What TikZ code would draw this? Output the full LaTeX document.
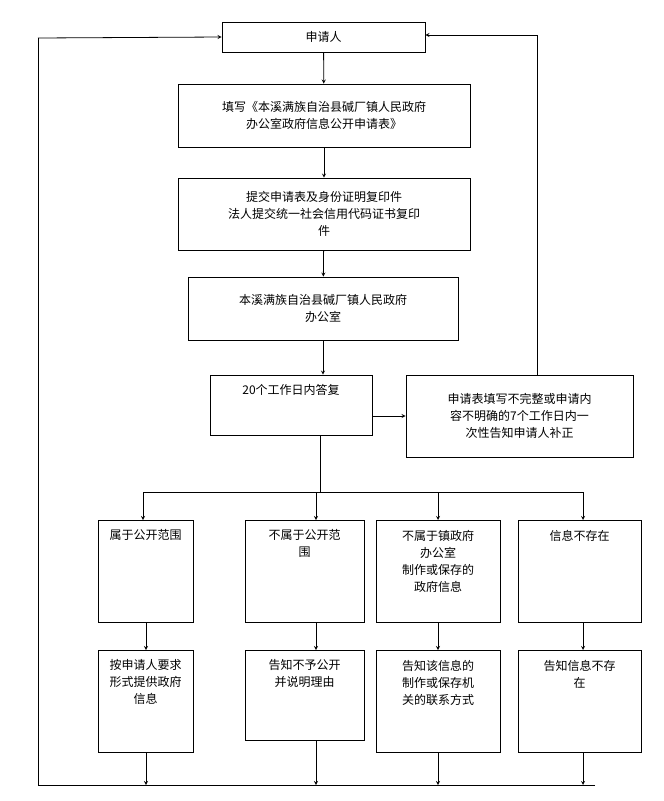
\documentclass[tikz,border=0pt]{standalone}
\usepackage{fontspec}
\setmainfont{Noto Sans CJK SC}
\begin{document}
\begin{tikzpicture}[x=1pt,y=-1pt,
  box/.style={draw,line width=0.8pt,inner sep=0pt},
  txt/.style={font=\fontsize{12}{17}\selectfont,align=center,inner sep=0pt},
  arr/.style={-stealth,line width=0.8pt},
  ln/.style={line width=0.8pt}]
\useasboundingbox (0,0) rectangle (664,801);
\node[box,txt,minimum width=203pt,minimum height=30pt] (A) at (323.5,37) {申请人};
\node[box,txt,minimum width=292pt,minimum height=63pt] (B) at (324,115.5) {填写《本溪满族自治县碱厂镇人民政府\\办公室政府信息公开申请表》};
\node[box,txt,minimum width=292pt,minimum height=72pt] (C) at (324,214) {提交申请表及身份证明复印件\\法人提交统一社会信用代码证书复印\\件};
\node[box,txt,minimum width=270pt,minimum height=63pt] (D) at (323,308.5) {本溪满族自治县碱厂镇人民政府\\办公室};
\node[box,minimum width=162pt,minimum height=60pt] (E) at (291,405) {};
\node[txt,anchor=north] (Et) at ([yshift=-10pt]E.north) {20个工作日内答复};
\node[box,txt,minimum width=227pt,minimum height=82pt] (F) at (519.5,416) {申请表填写不完整或申请内\\容不明确的7个工作日内一\\次性告知申请人补正};
\foreach \n/\x/\w/\t in {R1/145.5/95/属于公开范围, R2/304.5/119/不属于公开范\\围, R3/438/124/不属于镇政府\\办公室\\制作或保存的\\政府信息, R4/579.5/123/信息不存在}{
  \node[box,minimum width=\w pt,minimum height=102pt] (\n) at (\x,571) {};
  \node[txt,anchor=north] (\n t) at ([yshift=-10pt]\n.north) {\t};}
\foreach \n/\x/\y/\w/\h/\t in {S1/145.5/701/95/102/按申请人要求\\形式提供政府\\信息, S2/304.5/695/119/90/告知不予公开\\并说明理由, S3/438/701/124/102/告知该信息的\\制作或保存机\\关的联系方式, S4/579.5/701/123/102/告知信息不存\\在}{
  \node[box,minimum width=\w pt,minimum height=\h pt] (\n) at (\x,\y) {};
  \node[txt,anchor=north] (\n t) at ([yshift=-10pt]\n.north) {\t};}
\draw[arr] (A) -- (B);
\draw[arr] (B) -- (C);
\draw[arr] (C) -- (D);
\draw[arr] (D.south) -- (D.south |- E.north);
\draw[arr] (E.east |- F.west) -- (F.west);
\coordinate (J) at (320,492);
\draw[ln] (320,435) -- (J);
\draw[ln] (143,492) -- (583,492);
\foreach \x/\r in {143/R1,316/R2,438/R3,583/R4} \draw[arr] (\x,492) -- (\x,520);
\foreach \x/\r/\s in {146/R1/S1,316/R2/S2,438/R3/S3,583/R4/S4} \draw[arr] (\x,622) -- (\x,650);
\foreach \x/\y in {146/752,316/740,438/752,583/752} \draw[arr] (\x,\y) -- (\x,785);
\draw[ln] (595,785) -- (38,785) -- (38,38);
\draw[arr] (38,38) -- (A.west);
\draw[ln] (537,375) -- (537,35);
\draw[arr] (537,35) -- (A.east |- 0,35);
\end{tikzpicture}
\end{document}
